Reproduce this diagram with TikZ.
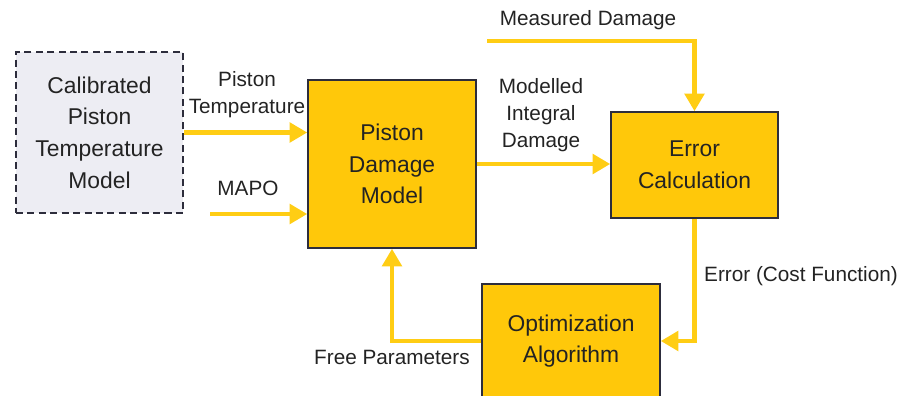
\documentclass[tikz,border=0pt]{standalone}
\usepackage{fontspec}
\setmainfont{Liberation Sans}
\usetikzlibrary{arrows.meta}
\definecolor{boxyellow}{RGB}{255,200,10}
\definecolor{flowyellow}{RGB}{255,205,20}
\definecolor{calibgray}{RGB}{237,237,243}
\definecolor{edgegray}{RGB}{45,45,60}
\definecolor{txtgray}{RGB}{35,35,35}

\tikzset{
    block/.style={draw=edgegray,line width=0.9pt,fill=boxyellow,align=center,
        font=\fontsize{13}{18}\selectfont,text=txtgray,inner sep=0pt},
    calibbox/.style={block,fill=calibgray,dashed,dash pattern=on 4pt off 2.5pt},
    flow/.style={draw=flowyellow,line width=2.8pt,
        -{Triangle[length=10pt,width=11pt]}},
    lbl/.style={align=center,font=\fontsize{11.8}{15.3}\selectfont,text=txtgray}
}

\begin{document}
\begin{tikzpicture}[x=0.02cm,y=-0.02cm]
        \useasboundingbox (0,0) rectangle (904,396);

        \node[calibbox,minimum width=3.34cm,minimum height=3.22cm] (calib) at (99.5,132.5) {Calibrated\\Piston\\Temperature\\Model};
        \node[block,minimum width=3.36cm,minimum height=3.36cm] (dmg) at (392,164) {Piston\\Damage\\Model};
        \node[block,minimum width=3.34cm,minimum height=2.12cm] (err) at (694.5,165) {Error\\Calculation};
        \node[block,minimum width=3.56cm,minimum height=2.28cm] (opt) at (571,341) {Optimization\\Algorithm};

        \coordinate (mapo) at (210,214);
        \coordinate (meas) at (487,41);

        \draw[flow] (calib.east) -- (calib.east -| dmg.west);
        \draw[flow] (mapo) -- (mapo -| dmg.west);
        \draw[flow] (dmg.east) -- (dmg.east -| err.west);
        \draw[flow] (meas) -| (err.north);
        \draw[flow] (err.south) |- (opt.east);
        \draw[flow] (opt.west) -| (dmg.south);

        \node[lbl] (ptemp) at (247,95) {Piston\\Temperature};
        \node[lbl] (mapolbl) at (248,188) {MAPO};
        \node[lbl] (modlbl) at (541,115) {Modelled\\Integral\\Damage};
        \node[lbl] (measlbl) at (588,20) {Measured Damage};
        \node[lbl] (errlbl) at (801,276) {Error (Cost Function)};
        \node[lbl] (freelbl) at (392,357) {Free Parameters};

    \end{tikzpicture}
\end{document}
